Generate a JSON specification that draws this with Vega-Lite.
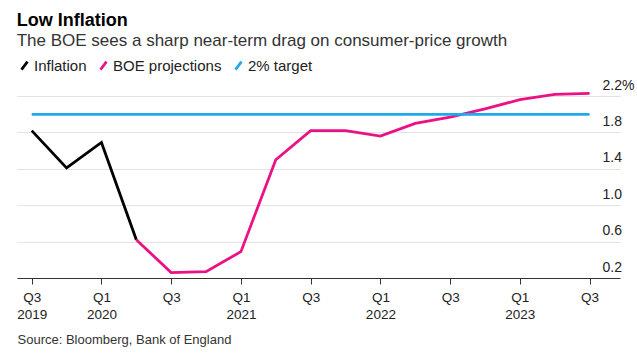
{
  "$schema": "https://vega.github.io/schema/vega-lite/v6.json",
  "width": 603,
  "height": 191,
  "autosize": {"type": "none"},
  "padding": {"left": 17, "top": 87, "right": 17, "bottom": 78},
  "background": "white",
  "config": {
    "font": "Liberation Sans",
    "view": {"stroke": null}
  },
  "title": {
    "text": "Low Inflation",
    "subtitle": "The BOE sees a sharp near-term drag on consumer-price growth",
    "anchor": "start",
    "fontSize": 18,
    "fontWeight": "bold",
    "color": "#000000",
    "subtitleFontSize": 17,
    "subtitleColor": "#333333",
    "subtitlePadding": 3,
    "offset": 9
  },
  "data": {
    "values": [
      {"time": 2019.5, "series": "Inflation", "value": 1.82},
      {"time": 2019.75, "series": "Inflation", "value": 1.41},
      {"time": 2020.0, "series": "Inflation", "value": 1.69},
      {"time": 2020.25, "series": "Inflation", "value": 0.62},
      {"time": 2020.25, "series": "BOE projections", "value": 0.62},
      {"time": 2020.5, "series": "BOE projections", "value": 0.26},
      {"time": 2020.75, "series": "BOE projections", "value": 0.27},
      {"time": 2021.0, "series": "BOE projections", "value": 0.49},
      {"time": 2021.25, "series": "BOE projections", "value": 1.5},
      {"time": 2021.5, "series": "BOE projections", "value": 1.82},
      {"time": 2021.75, "series": "BOE projections", "value": 1.82},
      {"time": 2022.0, "series": "BOE projections", "value": 1.76},
      {"time": 2022.25, "series": "BOE projections", "value": 1.9},
      {"time": 2022.5, "series": "BOE projections", "value": 1.97},
      {"time": 2022.75, "series": "BOE projections", "value": 2.06},
      {"time": 2023.0, "series": "BOE projections", "value": 2.16},
      {"time": 2023.25, "series": "BOE projections", "value": 2.22},
      {"time": 2023.5, "series": "BOE projections", "value": 2.23},
      {"time": 2019.5, "series": "2% target", "value": 2.0},
      {"time": 2023.5, "series": "2% target", "value": 2.0}
    ]
  },
  "mark": {"type": "line", "strokeWidth": 2.8, "strokeJoin": "miter"},
  "encoding": {
    "x": {
      "field": "time",
      "type": "quantitative",
      "scale": {"domain": [2019.3945, 2023.718], "nice": false, "zero": false},
      "axis": {
        "values": [2019.5, 2020, 2020.5, 2021, 2021.5, 2022, 2022.5, 2023, 2023.5],
        "labelExpr": "datum.value == 2019.5 ? ['Q3', '2019'] : (datum.value % 1 == 0 ? ['Q1', format(datum.value, 'd')] : 'Q3')",
        "grid": false,
        "domainColor": "#333333",
        "domainWidth": 1,
        "tickColor": "#333333",
        "tickSize": 6,
        "labelFontSize": 13.5,
        "labelColor": "#222222",
        "labelLineHeight": 17,
        "labelPadding": 6,
        "labelFlush": false,
        "labelOverlap": false,
        "title": "Source: Bloomberg, Bank of England",
        "titleAnchor": "start",
        "titleAlign": "left",
        "titleFontSize": 13,
        "titleFontWeight": "normal",
        "titleColor": "#333333",
        "titlePadding": 13
      }
    },
    "y": {
      "field": "value",
      "type": "quantitative",
      "scale": {"domain": [0.2, 2.3], "nice": false, "zero": false},
      "axis": {
        "orient": "right",
        "values": [0.2, 0.6, 1.0, 1.4, 1.8, 2.2],
        "labelExpr": "datum.value == 2.2 ? '2.2%' : format(datum.value, '.1f')",
        "grid": true,
        "gridColor": "#e3e3e3",
        "gridWidth": 1,
        "domain": false,
        "ticks": false,
        "labelAlign": "left",
        "labelBaseline": "alphabetic",
        "labelPadding": -18,
        "labelOffset": -7,
        "labelFontSize": 14,
        "labelColor": "#222222",
        "labelOverlap": false,
        "title": null
      }
    },
    "color": {
      "field": "series",
      "type": "nominal",
      "scale": {
        "domain": ["Inflation", "BOE projections", "2% target"],
        "range": ["#000000", "#eb1086", "#1ea9ec"]
      },
      "legend": {
        "orient": "top",
        "direction": "horizontal",
        "title": null,
        "offset": 12,
        "padding": 0,
        "symbolType": "M-0.75,1L0.75,-1",
        "symbolSize": 64,
        "symbolStrokeWidth": 2.6,
        "labelFontSize": 15,
        "labelColor": "#222222",
        "labelOffset": 2,
        "columnPadding": 8
      }
    },
    "order": {"field": "time", "type": "quantitative"}
  }
}
